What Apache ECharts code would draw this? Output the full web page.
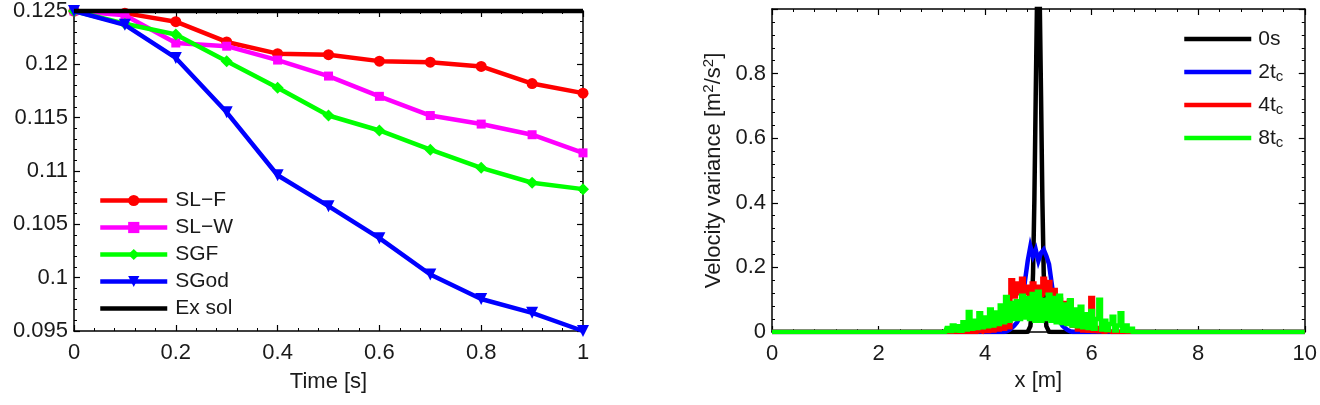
<!DOCTYPE html>
<html>
<head>
<meta charset="utf-8">
<script src="https://cdn.jsdelivr.net/npm/echarts@6/dist/echarts.min.js"></script>
<style>
html,body{margin:0;padding:0;background:#fff;}
#c{width:1320px;height:405px;}
</style>
</head>
<body>
<div id="c"></div>
<script>
// ---------- Left panel data ----------
const times = [0, 0.1, 0.2, 0.3, 0.4, 0.5, 0.6, 0.7, 0.8, 0.9, 1.0];
const slF  = [0.125, 0.1248, 0.1240, 0.1221, 0.1210, 0.1209, 0.1203, 0.1202, 0.1198, 0.1182, 0.1173];
const slW  = [0.125, 0.1246, 0.1220, 0.1217, 0.1204, 0.1189, 0.1170, 0.1152, 0.1144, 0.1134, 0.1117];
const sgf  = [0.125, 0.1238, 0.1228, 0.1203, 0.1178, 0.1152, 0.1138, 0.1120, 0.1103, 0.1089, 0.1083];
const sgod = [0.125, 0.1237, 0.1206, 0.1155, 0.1096, 0.1067, 0.1037, 0.1003, 0.0980, 0.0967, 0.0950];
const exSol = [0.125, 0.125, 0.125, 0.125, 0.125, 0.125, 0.125, 0.125, 0.125, 0.125, 0.125];
const leftNames = ['SL\u2212F', 'SL\u2212W', 'SGF', 'SGod', 'Ex sol'];

// ---------- Right panel data ----------
const xBlack = [0, 4.75, 4.8, 4.85, 4.875, 4.9, 4.925, 4.95, 4.975, 5.0, 5.025, 5.05, 5.075, 5.1, 5.125, 5.15, 5.2, 5.25, 10];
const var0s  = [0, 0, 0.001, 0.018, 0.064, 0.183, 0.41, 0.73, 1.03, 1.16, 1.03, 0.73, 0.41, 0.183, 0.064, 0.018, 0.001, 0, 0];

const xVar = [0,
  3.25, 3.30, 3.35, 3.40, 3.45, 3.50, 3.55, 3.60, 3.65, 3.70, 3.75, 3.80, 3.85, 3.90, 3.95,
  4.00, 4.05, 4.10, 4.15, 4.20, 4.25, 4.30, 4.35, 4.40, 4.45, 4.50, 4.55, 4.60, 4.65, 4.70, 4.75,
  4.80, 4.85, 4.90, 4.95, 5.00, 5.05, 5.10, 5.15, 5.20, 5.25, 5.30, 5.35, 5.40, 5.45, 5.50, 5.55,
  5.60, 5.65, 5.70, 5.75, 5.80, 5.85, 5.90, 5.95, 6.00, 6.05, 6.10, 6.15, 6.20, 6.25, 6.30, 6.35,
  6.40, 6.45, 6.50, 6.55, 6.60, 6.65, 6.70, 6.75, 6.80, 6.85,
  10];
const var2tc = [0,
  0, 0, 0, 0, 0, 0, 0, 0, 0, 0, 0, 0, 0, 0, 0,
  0, 0, 0, 0, 0, 0, 0, 0, 0.002, 0.006, 0.012, 0.02, 0.03, 0.045, 0.09, 0.16,
  0.22, 0.265, 0.235, 0.255, 0.22, 0.245, 0.255, 0.235, 0.21, 0.15, 0.09, 0.05, 0.035, 0.02, 0.012, 0.006,
  0.002, 0, 0, 0, 0, 0, 0, 0, 0, 0, 0, 0, 0, 0, 0, 0,
  0, 0, 0, 0, 0, 0, 0, 0, 0, 0,
  0];
const var4tc = [0,
  0, 0, 0, 0, 0, 0, 0, 0, 0, 0, 0, 0, 0, 0.004, 0.001,
  0.012, 0.003, 0.015, 0.005, 0.022, 0.008, 0.028, 0.01, 0.035, 0.015, 0.16, 0.11, 0.15, 0.12, 0.165, 0.12,
  0.14, 0.115, 0.15, 0.12, 0.14, 0.115, 0.165, 0.12, 0.155, 0.1, 0.13, 0.07, 0.1, 0.05, 0.09, 0.04,
  0.095, 0.02, 0.04, 0.008, 0.025, 0.005, 0.02, 0.004, 0.105, 0.003, 0.012, 0.002, 0.008, 0.001, 0.004, 0,
  0, 0, 0, 0, 0, 0, 0, 0, 0, 0,
  0];
const var8tc = [0,
  0, 0.012, 0.003, 0.02, 0.005, 0.018, 0.004, 0.03, 0.008, 0.062, 0.01, 0.035, 0.012, 0.058, 0.015,
  0.045, 0.018, 0.07, 0.02, 0.06, 0.025, 0.082, 0.03, 0.108, 0.035, 0.09, 0.04, 0.095, 0.04, 0.112, 0.045,
  0.105, 0.04, 0.118, 0.035, 0.125, 0.035, 0.1, 0.04, 0.115, 0.035, 0.105, 0.03, 0.112, 0.028, 0.085, 0.025,
  0.098, 0.02, 0.07, 0.018, 0.078, 0.015, 0.055, 0.012, 0.065, 0.01, 0.04, 0.1, 0.008, 0.035, 0.006, 0.025,
  0.047, 0.005, 0.02, 0.058, 0.004, 0.02, 0.003, 0.01, 0, 0,
  0];
const rightNames = ['0s', '2tc', '4tc', '8tc'];
const rightLabels = {'0s': '0s', '2tc': '2t{sub|c}', '4tc': '4t{sub|c}', '8tc': '8t{sub|c}'};

// ---------- Chart ----------
const FONT = '"Liberation Sans", Arial, Helvetica, sans-serif';
const TXT = '#1a1a1a';
const LW = 4.5;
const pairs = (xs, ys) => xs.map((x, i) => [x, ys[i]]);
const fmt = v => String(parseFloat(v.toFixed(4)));

function boxAxes(gridIndex, xmin, xmax, xint, ymin, ymax, yint, xName, yName, xNameGap, yFmt) {
  const tick = {show: true, inside: true, length: 6, lineStyle: {color: '#000', width: 1.2}};
  const minor = {show: true, splitNumber: 5, length: 3, lineStyle: {color: '#000', width: 1}};
  const line = {show: true, onZero: false, lineStyle: {color: '#000', width: 1.5}};
  const label = {color: TXT, fontSize: 22, fontFamily: FONT, margin: 8, formatter: fmt};
  const xs = [
    {type: 'value', gridIndex, min: xmin, max: xmax, interval: xint, position: 'bottom',
     axisLine: line, axisTick: tick, minorTick: minor, splitLine: {show: false},
     axisLabel: Object.assign({}, label, {margin: 11}),
     name: xName, nameLocation: 'middle', nameGap: xNameGap,
     nameTextStyle: {color: TXT, fontSize: 22, fontFamily: FONT}},
    {type: 'value', gridIndex, min: xmin, max: xmax, interval: xint, position: 'top',
     axisLine: line, axisTick: tick, minorTick: minor, splitLine: {show: false}, axisLabel: {show: false}}
  ];
  const ys = [
    {type: 'value', gridIndex, min: ymin, max: ymax, interval: yint, position: 'left',
     axisLine: line, axisTick: tick, minorTick: minor, splitLine: {show: false},
     axisLabel: Object.assign({}, label, {margin: 6, formatter: yFmt || fmt})},
    {type: 'value', gridIndex, min: ymin, max: ymax, interval: yint, position: 'right',
     axisLine: line, axisTick: tick, minorTick: minor, splitLine: {show: false}, axisLabel: {show: false}}
  ];
  if (yName) {
    ys[0].name = yName;
    ys[0].nameLocation = 'middle';
    ys[0].nameRotate = 90;
    ys[0].nameGap = 46;
    ys[0].nameTextStyle = {color: TXT, fontSize: 22, fontFamily: FONT,
      rich: {sup: {fontSize: 15, fontFamily: FONT, color: TXT, verticalAlign: 'top', padding: [0, 0, 10, 0]}}};
  }
  return {xs, ys};
}

const L = boxAxes(0, 0, 1, 0.2, 0.095, 0.125, 0.005, 'Time [s]', null, 40);
const R = boxAxes(1, 0, 10, 2, 0, 1, 0.2, 'x [m]', 'Velocity variance [m{sup|2}/s{sup|2}]', 33,
  v => (v >= 0.999 ? '' : fmt(v)));

const leftStyle = [
  {c: '#ff0000', s: 'circle', z: 11, r: 0},
  {c: '#ff00ff', s: 'rect', z: 9, r: 0},
  {c: '#00ff00', s: 'diamond', z: 12, r: 0},
  {c: '#0000ff', s: 'triangle', z: 12, r: 180},
  {c: '#000000', s: 'none', z: 0, r: 0}
];
const leftData = [slF, slW, sgf, sgod, exSol];
const leftSeries = leftData.map((d, i) => ({
  type: 'line', name: leftNames[i], xAxisIndex: 0, yAxisIndex: 0,
  data: pairs(times, d), symbol: leftStyle[i].s, symbolSize: leftStyle[i].z,
  symbolRotate: leftStyle[i].r, showSymbol: leftStyle[i].s !== 'none',
  lineStyle: {color: leftStyle[i].c, width: LW}, itemStyle: {color: leftStyle[i].c},
  clip: false, z: 2 + i, animation: false
}));

const rightCols = ['#000000', '#0000ff', '#ff0000', '#00ff00'];
const rightSteps = [false, false, 'middle', 'middle'];
const rightData = [pairs(xBlack, var0s), pairs(xVar, var2tc), pairs(xVar, var4tc), pairs(xVar, var8tc)];
const rightSeries = rightData.map((d, i) => ({
  type: 'line', name: rightNames[i], xAxisIndex: 2, yAxisIndex: 2,
  data: d, symbol: 'none', showSymbol: false, step: rightSteps[i],
  lineStyle: {color: rightCols[i], width: LW, join: 'miter'}, itemStyle: {color: rightCols[i]},
  clip: true, z: 2 + i, animation: false
}));

const hidden = {opacity: 0, color: 'rgba(0,0,0,0)', borderWidth: 0};
const chart = echarts.init(document.getElementById('c'), null, {renderer: 'canvas'});
chart.setOption({
  animation: false,
  backgroundColor: '#ffffff',
  grid: [
    {left: 74, top: 10, width: 509, height: 321, containLabel: false},
    {left: 772, top: 9, width: 534, height: 323, containLabel: false}
  ],
  xAxis: [...L.xs, ...R.xs],
  yAxis: [...L.ys, ...R.ys],
  legend: [
    {data: leftNames.map(n => n === 'Ex sol' ? {name: n, itemStyle: hidden} : {name: n}),
     orient: 'vertical', left: 98, top: 190, padding: 0, itemWidth: 67, itemHeight: 14,
     itemGap: 6, lineStyle: {width: LW},
     textStyle: {color: TXT, fontSize: 21, fontFamily: FONT, lineHeight: 21, padding: [0, 0, 0, 3]}},
    {data: rightNames.map(n => ({name: n, itemStyle: hidden})),
     orient: 'vertical', left: 1182, top: 27, padding: 0, itemWidth: 67, itemHeight: 12,
     itemGap: 9, lineStyle: {width: LW}, formatter: n => rightLabels[n],
     textStyle: {color: TXT, fontSize: 21, fontFamily: FONT, lineHeight: 24, padding: [0, 0, 0, 2],
       rich: {sub: {fontSize: 15, fontFamily: FONT, color: TXT, verticalAlign: 'bottom', padding: [12, 0, 0, 0]}}}}
  ],
  series: [...leftSeries, ...rightSeries]
});
</script>
</body>
</html>
